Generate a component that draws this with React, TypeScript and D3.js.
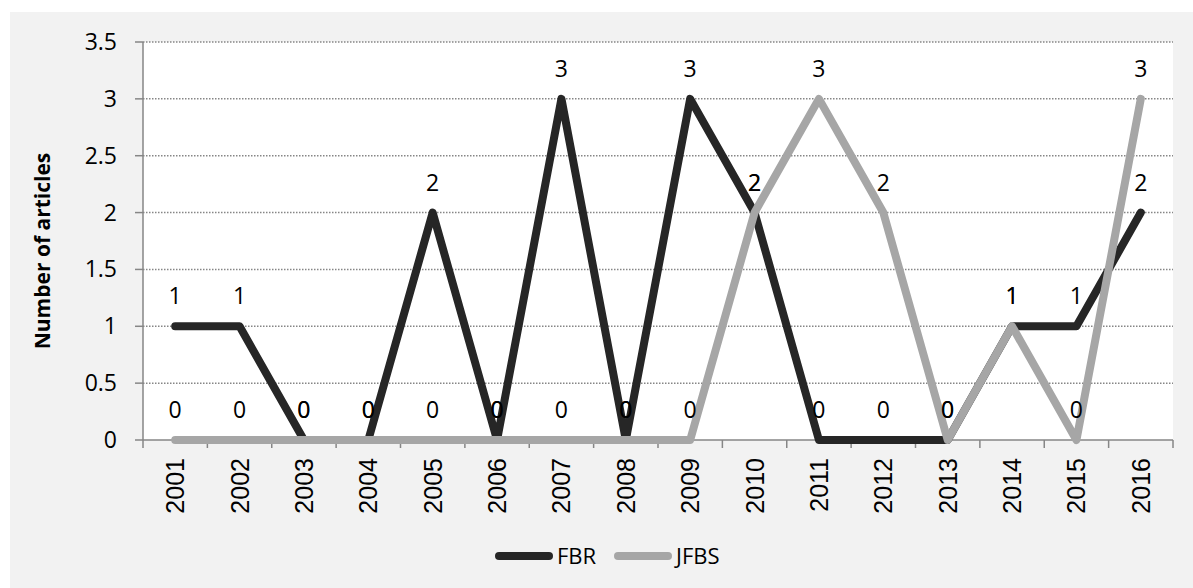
import React from "react";
import * as d3 from "d3";

const years = ["2001","2002","2003","2004","2005","2006","2007","2008","2009","2010","2011","2012","2013","2014","2015","2016"];
const fbr = [1,1,0,0,2,0,3,0,3,2,0,0,0,1,1,2];
const jfbs = [0,0,0,0,0,0,0,0,0,2,3,2,0,1,0,3];
const yTicks = [0,0.5,1,1.5,2,2.5,3,3.5];
const seriesNames = ["FBR","JFBS"];
const seriesColors = ["#262626","#a6a6a6"];

const W = 1193, H = 588;
const L = 143, R = 1173, T = 42, B = 440;

export default function App() {
  const x = d3.scaleBand<string>().domain(years).range([L, R]);
  const y = d3.scaleLinear().domain([0, 3.5]).range([B, T]);
  const line = d3.line<number>().x((_, i) => (x(years[i]) as number) + x.bandwidth() / 2).y(d => y(d));
  const series = [fbr, jfbs];
  const boundaries = years.map(yr => x(yr) as number).concat([R]);
  const fmt = (v: number) => String(v);
  return (
    <svg width={W} height={H} style={{ position: "absolute", left: 0, top: 0 }}>
      <rect x={0} y={0} width={W} height={H} fill="#ffffff" />
      <rect x={10} y={12} width={W - 10} height={H - 12} fill="#f2f2f2" />
      <rect x={L} y={T} width={R - L} height={B - T} fill="#ffffff" />
      {yTicks.filter(t => t > 0).map(t => (
        <line key={t} x1={L} x2={R} y1={y(t)} y2={y(t)} stroke="#868686" strokeWidth={1.5} strokeDasharray="1.5,1.5" />
      ))}
      {yTicks.map(t => (
        <g key={"yt" + t}>
          <line x1={L - 8} x2={L} y1={y(t)} y2={y(t)} stroke="#868686" strokeWidth={1.5} />
          <text x={117} y={y(t)} dy="0.35em" textAnchor="end" fontFamily="Open Sans" fontSize={23} fill="#000">{fmt(t)}</text>
        </g>
      ))}
      <line x1={L} x2={L} y1={T} y2={B} stroke="#868686" strokeWidth={1.5} />
      <line x1={L} x2={R} y1={B} y2={B} stroke="#868686" strokeWidth={1.5} />
      {boundaries.map((bx, i) => (
        <line key={"xt" + i} x1={bx} x2={bx} y1={B} y2={B + 8} stroke="#868686" strokeWidth={1.5} />
      ))}
      {years.map(yr => {
        const cx = (x(yr) as number) + x.bandwidth() / 2;
        return (
          <text key={yr} transform={`translate(${cx},458) rotate(-90)`} dy="0.36em" textAnchor="end" fontFamily="Liberation Sans" fontSize={25} fill="#000">{yr}</text>
        );
      })}
      <text transform={`translate(43,251) rotate(-90)`} dy="0.35em" textAnchor="middle" fontFamily="Open Sans" fontWeight="bold" fontSize={21} fill="#000">Number of articles</text>
      {series.map((s, si) => (
        <path key={"s" + si} d={line(s) || ""} fill="none" stroke={seriesColors[si]} strokeWidth={8} strokeLinecap="round" strokeLinejoin="round" />
      ))}
      {series.map((s, si) => s.map((v, i) => (
        <text key={"l" + si + "-" + i} x={(x(years[i]) as number) + x.bandwidth() / 2} y={y(v) - 22} textAnchor="middle" fontFamily="Open Sans" fontSize={23} fill="#000">{v}</text>
      )))}
      {seriesNames.map((n, i) => {
        const lx = [495, 614][i];
        return (
          <g key={n}>
            <line x1={lx + 4} x2={lx + 54} y1={556} y2={556} stroke={seriesColors[i]} strokeWidth={8} strokeLinecap="round" />
            <text x={lx + 62} y={556} dy="0.35em" fontFamily="Open Sans" fontSize={22} fill="#000">{n}</text>
          </g>
        );
      })}
    </svg>
  );
}
